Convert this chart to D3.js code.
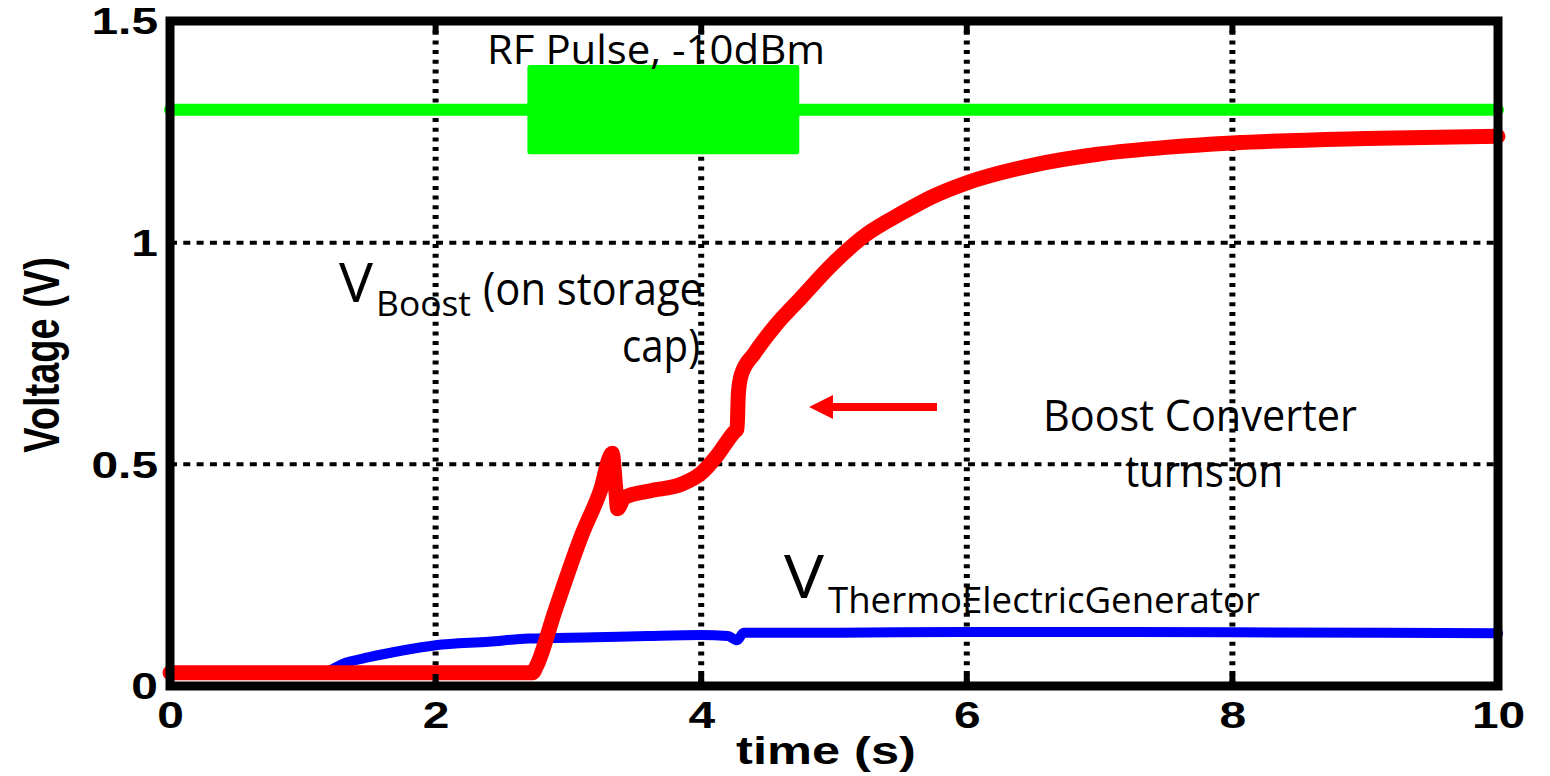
<!DOCTYPE html>
<html>
<head>
<meta charset="utf-8">
<script src="https://cdn.jsdelivr.net/npm/d3@7"></script>
<style>
  body { margin: 0; background: #fff; }
  svg { display: block; }
</style>
</head>
<body>
<script>
var redT  = [0, 2.73, 2.76, 2.9, 3.1, 3.24, 3.33, 3.355, 3.37, 3.42, 3.61, 3.85, 4.0, 4.12, 4.24, 4.27, 4.28, 4.3, 4.4, 4.55, 4.75, 5.0, 5.25, 5.5, 5.75, 6.0, 6.5, 7.0, 7.5, 8.0, 9.0, 10];
var redV  = [0.03, 0.03, 0.045, 0.17, 0.34, 0.44, 0.525, 0.45, 0.40, 0.425, 0.44, 0.455, 0.48, 0.52, 0.57, 0.58, 0.66, 0.70, 0.75, 0.81, 0.875, 0.955, 1.02, 1.065, 1.105, 1.135, 1.175, 1.2, 1.215, 1.225, 1.235, 1.24];
var blueT = [0, 1.15, 1.3, 1.5, 1.75, 2.0, 2.4, 2.7, 3.2, 3.6, 4.0, 4.2, 4.27, 4.32, 5, 6, 8, 10];
var blueV = [0.03, 0.03, 0.05, 0.065, 0.08, 0.092, 0.1, 0.107, 0.11, 0.113, 0.115, 0.113, 0.103, 0.12, 0.12, 0.122, 0.121, 0.119];
var greenT = [0, 10];
var greenV = [1.30, 1.30];
var pulseT  = [2.71, 4.72];
var pulseHi = [1.395, 1.395];
var pulseLo = [1.205, 1.205];

var xTicks = [0, 2, 4, 6, 8, 10];
var yTicks = [0, 0.5, 1, 1.5];
var xGrid = [2, 4, 6, 8];
var yGrid = [0.5, 1];

var width = 1550, height = 776;
var L = 170, R = 1498, T = 21, B = 686;
var STRETCH = 1.33; // the original figure is stretched sideways

var svg = d3.select("body").append("svg")
	.attr("width", width)
	.attr("height", height);

svg.append("rect").attr("width", width).attr("height", height).attr("fill", "#fff");

var x = d3.scaleLinear().domain([0, 10]).range([L, R]);
var y = d3.scaleLinear().domain([0, 1.5]).range([B, T]);

function stretch(sel, f) {
	sel.each(function () {
		var len = this.getComputedTextLength();
		d3.select(this).attr("textLength", len * (f || STRETCH)).attr("lengthAdjust", "spacingAndGlyphs");
	});
}

/*************************************************/
// grid
svg.selectAll(".vgrid")
	.data(xGrid)
	.enter().append("line")
	.attr("class", "vgrid")
	.attr("x1", function (d) { return x(d) }).attr("x2", function (d) { return x(d) })
	.attr("y1", T).attr("y2", B)
	.attr("stroke", "#000").attr("stroke-width", 6)
	.attr("stroke-dasharray", "4,5.7");

svg.selectAll(".hgrid")
	.data(yGrid)
	.enter().append("line")
	.attr("class", "hgrid")
	.attr("x1", L).attr("x2", R)
	.attr("y1", function (d) { return y(d) }).attr("y2", function (d) { return y(d) })
	.attr("stroke", "#000").attr("stroke-width", 4)
	.attr("stroke-dasharray", "7,6.3");

/*************************************************/
// traces
var line = d3.line()
	.x(function (d) { return x(d[0]) })
	.y(function (d) { return y(d[1]) });
var smooth = d3.line()
	.curve(d3.curveMonotoneX)
	.x(function (d) { return x(d[0]) })
	.y(function (d) { return y(d[1]) });

svg.append("path")
	.datum(d3.zip(greenT, greenV))
	.attr("d", line)
	.attr("fill", "none").attr("stroke", "#00ff00").attr("stroke-width", 12)
	.attr("stroke-linecap", "round");

var area = d3.area()
	.x(function (d) { return x(d[0]) })
	.y0(function (d) { return y(d[2]) })
	.y1(function (d) { return y(d[1]) });

svg.append("path")
	.datum(d3.zip(pulseT, pulseHi, pulseLo))
	.attr("d", area)
	.attr("fill", "#00ff00").attr("stroke", "#00ff00").attr("stroke-width", 5)
	.attr("stroke-linejoin", "round");

svg.append("path")
	.datum(d3.zip(blueT, blueV))
	.attr("d", smooth)
	.attr("fill", "none").attr("stroke", "#0000ff").attr("stroke-width", 10)
	.attr("stroke-linecap", "round").attr("stroke-linejoin", "round");

svg.append("path")
	.datum(d3.zip(redT, redV))
	.attr("d", smooth)
	.attr("fill", "none").attr("stroke", "#ff0000").attr("stroke-width", 15)
	.attr("stroke-linecap", "round").attr("stroke-linejoin", "round");

/*************************************************/
// frame + inward ticks
svg.append("rect")
	.attr("x", L).attr("y", T)
	.attr("width", R - L).attr("height", B - T)
	.attr("fill", "none").attr("stroke", "#000").attr("stroke-width", 9);

svg.selectAll(".xtk")
	.data(xTicks.slice(1, -1))
	.enter().append("g")
	.each(function (d) {
		var g = d3.select(this);
		g.append("line").attr("x1", x(d)).attr("x2", x(d)).attr("y1", B).attr("y2", B - 12)
			.attr("stroke", "#000").attr("stroke-width", 6);
		g.append("line").attr("x1", x(d)).attr("x2", x(d)).attr("y1", T).attr("y2", T + 12)
			.attr("stroke", "#000").attr("stroke-width", 6);
	});

var xAxis = svg.append("g")
	.attr("transform", "translate(0," + B + ")")
	.call(d3.axisBottom(x).tickValues(xTicks).tickSize(0).tickFormat(d3.format("d")));
xAxis.select(".domain").remove();
xAxis.selectAll("text")
	.attr("y", 42).attr("dy", 0)
	.style("font-family", "'Liberation Sans', Arial, sans-serif")
	.style("font-weight", "bold").style("font-size", "36px").attr("fill", "#000")
	.call(stretch);

var yAxis = svg.append("g")
	.attr("transform", "translate(" + L + ",0)")
	.call(d3.axisLeft(y).tickValues(yTicks).tickSize(0).tickFormat(function (d) { return String(d) }));
yAxis.select(".domain").remove();
yAxis.selectAll("text")
	.attr("x", -12).attr("dy", "0.36em")
	.style("font-family", "'Liberation Sans', Arial, sans-serif")
	.style("font-weight", "bold").style("font-size", "36px").attr("fill", "#000")
	.call(stretch);

// axis titles
svg.append("text")
	.attr("x", 826).attr("y", 764)
	.attr("text-anchor", "middle")
	.style("font-family", "'Liberation Sans', Arial, sans-serif")
	.style("font-weight", "bold").style("font-size", "38px")
	.text("time (s)")
	.call(stretch);

svg.append("text")
	.attr("transform", "translate(59,355) rotate(-90) scale(1,1.33)")
	.attr("text-anchor", "middle")
	.style("font-family", "'Liberation Sans', Arial, sans-serif")
	.style("font-weight", "bold").style("font-size", "38px")
	.text("Voltage (V)");

/*************************************************/
// annotations
var FONT = "'Open Sans', 'Noto Sans', sans-serif";
function note(tx, ty, size, str, len) {
	return svg.append("text")
		.attr("x", tx).attr("y", ty)
		.style("font-family", FONT).style("font-size", size + "px").attr("fill", "#000")
		.attr("textLength", len).attr("lengthAdjust", "spacingAndGlyphs")
		.text(str);
}

note(487, 64, 40, "RF Pulse, -10dBm", 338);

note(339, 302, 54, "V", 34);
note(376, 316, 34, "Boost", 95);
note(483, 305, 46, "(on storage", 220);
note(622, 362, 46, "cap)", 78);

note(1043, 431, 44, "Boost Converter", 314);
note(1125, 487, 44, "turns on", 158);

note(784, 598, 60, "V", 40);
note(828, 613, 36, "ThermoElectricGenerator", 432);

// arrow pointing at the boost turn-on step
svg.append("line")
	.attr("x1", 937).attr("y1", 407).attr("x2", 826).attr("y2", 407)
	.attr("stroke", "#ff0000").attr("stroke-width", 8);
svg.append("path")
	.attr("d", "M809,407 L833,395 L833,419 Z")
	.attr("fill", "#ff0000");
</script>
</body>
</html>
